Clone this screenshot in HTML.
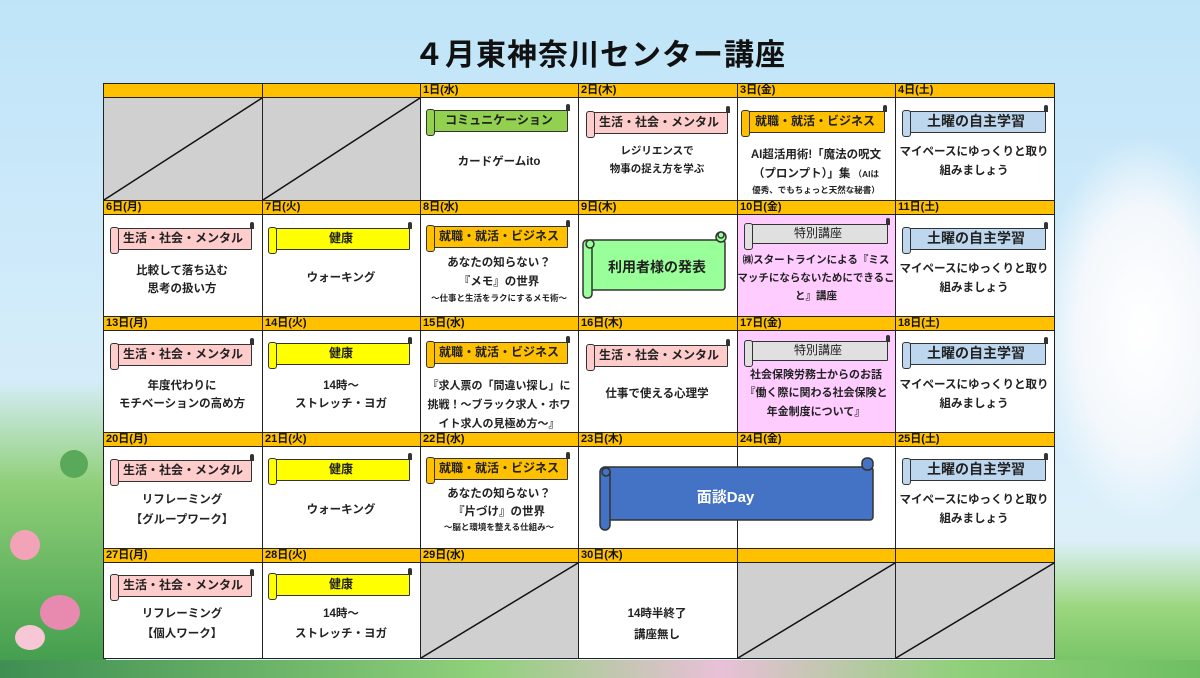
<!DOCTYPE html>
<html><head><meta charset="utf-8">
<style>
*{margin:0;padding:0;box-sizing:border-box}
body{width:1200px;height:678px;overflow:hidden;position:relative;font-family:"Liberation Sans","Noto Sans CJK JP",sans-serif;
background:linear-gradient(180deg,#bfe4f8 0%,#d3ecfa 50%,#e4f3fb 100%);}
.g1{position:absolute;left:0;top:380px;width:106px;height:298px;background:linear-gradient(180deg,rgba(120,200,110,0) 0%,#8fcf78 35%,#3d9a4a 100%)}
.g2{position:absolute;left:0;top:660px;width:1200px;height:18px;background:linear-gradient(90deg,#3e8f52,#8fd07a 40%,#e9c0d8 60%,#8fd07a 80%,#6fbf62)}
.g3{position:absolute;left:1055px;top:540px;width:145px;height:138px;background:linear-gradient(180deg,rgba(150,210,120,0),#9ad67c 50%,#6fbf62)}
.cl{position:absolute;left:1040px;top:140px;width:170px;height:380px;background:radial-gradient(ellipse at 60% 50%,#ffffff 0%,#f4f8fc 45%,rgba(230,240,250,0) 72%)}
.fl{position:absolute;border-radius:50%}
h1{position:absolute;left:0;top:30px;width:1200px;text-align:center;font-size:30px;font-weight:bold;color:#111;letter-spacing:1px}
.hd{position:absolute;height:15px;background:#ffc000;border:1px solid #222;font-size:11px;font-weight:bold;line-height:13px;padding-left:2px;color:#111}
.c{position:absolute;background:#fff;border:1px solid #222}
.gr{background:#d0d0d0}
.pk{background:#ffccff}
.t{position:absolute;width:158px;text-align:center;font-size:11.5px;font-weight:bold;color:#222;white-space:nowrap}
.s{font-size:8.5px}
.b{position:absolute;height:22px;border:1.5px solid #333;font-size:12px;font-weight:bold;text-align:center;line-height:19px;color:#222;border-radius:1px}
.b:before{content:"";position:absolute;left:-5px;top:-2px;width:7px;height:25px;border:1.5px solid #333;border-radius:3px;background:inherit}
.b:after{content:"";position:absolute;right:-3px;top:-7px;width:4px;height:7px;background:#333;border-radius:2px 2px 0 0}
.pink{background:#ffcccc}.yel{background:#ffff00}.org{background:#ffc000}.blu{background:#bdd7ee;font-size:14px}.grn{background:#92d050}.gry{background:#e0e0e0;font-weight:normal}
</style></head><body>
<div class="cl"></div>
<div class="g1"></div><div class="g3"></div><div class="g2"></div>
<div class="fl" style="left:10px;top:530px;width:30px;height:30px;background:#f2a3b8"></div>
<div class="fl" style="left:40px;top:595px;width:40px;height:35px;background:#e88ab0"></div>
<div class="fl" style="left:15px;top:625px;width:30px;height:25px;background:#f7c7d5"></div>
<div class="fl" style="left:60px;top:450px;width:28px;height:28px;background:#5aa85a"></div>
<h1>４月東神奈川センター講座</h1>

<div class="hd" style="left:103px;top:83px;width:160px"></div>
<div class="hd" style="left:262px;top:83px;width:159px"></div>
<div class="hd" style="left:420px;top:83px;width:159px">1日(水)</div>
<div class="hd" style="left:578px;top:83px;width:160px">2日(木)</div>
<div class="hd" style="left:737px;top:83px;width:159px">3日(金)</div>
<div class="hd" style="left:895px;top:83px;width:160px">4日(土)</div>

<div class="hd" style="left:103px;top:200px;width:160px">6日(月)</div>
<div class="hd" style="left:262px;top:200px;width:159px">7日(火)</div>
<div class="hd" style="left:420px;top:200px;width:159px">8日(水)</div>
<div class="hd" style="left:578px;top:200px;width:160px">9日(木)</div>
<div class="hd" style="left:737px;top:200px;width:159px">10日(金)</div>
<div class="hd" style="left:895px;top:200px;width:160px">11日(土)</div>

<div class="hd" style="left:103px;top:316px;width:160px">13日(月)</div>
<div class="hd" style="left:262px;top:316px;width:159px">14日(火)</div>
<div class="hd" style="left:420px;top:316px;width:159px">15日(水)</div>
<div class="hd" style="left:578px;top:316px;width:160px">16日(木)</div>
<div class="hd" style="left:737px;top:316px;width:159px">17日(金)</div>
<div class="hd" style="left:895px;top:316px;width:160px">18日(土)</div>

<div class="hd" style="left:103px;top:432px;width:160px">20日(月)</div>
<div class="hd" style="left:262px;top:432px;width:159px">21日(火)</div>
<div class="hd" style="left:420px;top:432px;width:159px">22日(水)</div>
<div class="hd" style="left:578px;top:432px;width:160px">23日(木)</div>
<div class="hd" style="left:737px;top:432px;width:159px">24日(金)</div>
<div class="hd" style="left:895px;top:432px;width:160px">25日(土)</div>

<div class="hd" style="left:103px;top:548px;width:160px">27日(月)</div>
<div class="hd" style="left:262px;top:548px;width:159px">28日(火)</div>
<div class="hd" style="left:420px;top:548px;width:159px">29日(水)</div>
<div class="hd" style="left:578px;top:548px;width:160px">30日(木)</div>
<div class="hd" style="left:737px;top:548px;width:159px"></div>
<div class="hd" style="left:895px;top:548px;width:160px"></div>

<div class="c gr" style="left:103px;top:97px;width:160px;height:104px"></div>
<div class="c gr" style="left:262px;top:97px;width:159px;height:104px"></div>
<div class="c" style="left:420px;top:97px;width:159px;height:104px"></div>
<div class="c" style="left:578px;top:97px;width:160px;height:104px"></div>
<div class="c" style="left:737px;top:97px;width:159px;height:104px"></div>
<div class="c" style="left:895px;top:97px;width:160px;height:104px"></div>

<div class="c" style="left:103px;top:214px;width:160px;height:103px"></div>
<div class="c" style="left:262px;top:214px;width:159px;height:103px"></div>
<div class="c" style="left:420px;top:214px;width:159px;height:103px"></div>
<div class="c" style="left:578px;top:214px;width:160px;height:103px"></div>
<div class="c pk" style="left:737px;top:214px;width:159px;height:103px"></div>
<div class="c" style="left:895px;top:214px;width:160px;height:103px"></div>

<div class="c" style="left:103px;top:330px;width:160px;height:103px"></div>
<div class="c" style="left:262px;top:330px;width:159px;height:103px"></div>
<div class="c" style="left:420px;top:330px;width:159px;height:103px"></div>
<div class="c" style="left:578px;top:330px;width:160px;height:103px"></div>
<div class="c pk" style="left:737px;top:330px;width:159px;height:103px"></div>
<div class="c" style="left:895px;top:330px;width:160px;height:103px"></div>

<div class="c" style="left:103px;top:446px;width:160px;height:103px"></div>
<div class="c" style="left:262px;top:446px;width:159px;height:103px"></div>
<div class="c" style="left:420px;top:446px;width:159px;height:103px"></div>
<div class="c" style="left:578px;top:446px;width:160px;height:103px"></div>
<div class="c" style="left:737px;top:446px;width:159px;height:103px"></div>
<div class="c" style="left:895px;top:446px;width:160px;height:103px"></div>

<div class="c" style="left:103px;top:562px;width:160px;height:97px"></div>
<div class="c" style="left:262px;top:562px;width:159px;height:97px"></div>
<div class="c gr" style="left:420px;top:562px;width:159px;height:97px"></div>
<div class="c" style="left:578px;top:562px;width:160px;height:97px"></div>
<div class="c gr" style="left:737px;top:562px;width:159px;height:97px"></div>
<div class="c gr" style="left:895px;top:562px;width:160px;height:97px"></div>

<svg style="position:absolute;left:0;top:0" width="1200" height="678">
<g stroke="#111" stroke-width="1.5">
<line x1="104" y1="200" x2="262" y2="98"/>
<line x1="263" y1="200" x2="420" y2="98"/>
<line x1="421" y1="658" x2="578" y2="563"/>
<line x1="738" y1="658" x2="895" y2="563"/>
<line x1="896" y1="658" x2="1054" y2="563"/>
</g>
<g stroke="#333" stroke-width="1.5">
<rect x="587" y="240" width="138" height="50" rx="3" fill="#99ff99"/>
<rect x="583" y="240" width="9" height="58" rx="4" fill="#99ff99"/>
<circle cx="590" cy="244" r="4" fill="#99ff99"/>
<rect x="716" y="232" width="10" height="10" rx="5" fill="#99ff99"/>
<circle cx="721" cy="235" r="3" fill="#99ff99"/>
</g>
<g stroke="#333" stroke-width="1.5">
<rect x="603" y="467" width="270" height="53" rx="3" fill="#4472c4"/>
<rect x="600" y="467" width="10" height="63" rx="5" fill="#4472c4"/>
<circle cx="606" cy="472" r="4" fill="#4472c4"/>
<rect x="862" y="458" width="11" height="12" rx="5" fill="#4472c4"/>
</g>
</svg>
<div class="t" style="left:578px;top:257px;font-size:14px">利用者様の発表</div>
<div class="t" style="left:578px;top:486px;width:295px;font-size:15px;color:#fff;font-weight:bold">面談Day</div>

<div class="b grn" style="left:430px;top:110px;width:138px">コミュニケーション</div>
<div class="t" style="left:420px;top:153px">カードゲームito</div>
<div class="b pink" style="left:590px;top:112px;width:138px">生活・社会・メンタル</div>
<div class="t" style="left:578px;top:143px;font-size:10.5px">レジリエンスで</div>
<div class="t" style="left:578px;top:161px;font-size:10.5px">物事の捉え方を学ぶ</div>
<div class="b org" style="left:745px;top:111px;width:140px">就職・就活・ビジネス</div>
<div class="t" style="left:737px;top:146px;font-size:11.5px">AI超活用術!「魔法の呪文</div>
<div class="t" style="left:737px;top:165px;font-size:11.5px">（プロンプト）」集 <span class="s">（AIは</span></div>
<div class="t s" style="left:737px;top:184px">優秀、でもちょっと天然な秘書）</div>
<div class="b blu" style="left:906px;top:111px;width:140px">土曜の自主学習</div>
<div class="t" style="left:895px;top:143px">マイペースにゆっくりと取り</div>
<div class="t" style="left:895px;top:162px">組みましょう</div>

<div class="b pink" style="left:114px;top:228px;width:138px">生活・社会・メンタル</div>
<div class="t" style="left:103px;top:262px">比較して落ち込む</div>
<div class="t" style="left:103px;top:280px">思考の扱い方</div>
<div class="b yel" style="left:272px;top:228px;width:138px">健康</div>
<div class="t" style="left:262px;top:269px">ウォーキング</div>
<div class="b org" style="left:430px;top:226px;width:138px">就職・就活・ビジネス</div>
<div class="t" style="left:420px;top:254px">あなたの知らない？</div>
<div class="t" style="left:420px;top:273px">『メモ』の世界</div>
<div class="t s" style="left:420px;top:292px">～仕事と生活をラクにするメモ術～</div>
<div class="b gry" style="left:748px;top:224px;width:140px;height:20px;line-height:17px">特別講座</div>
<div class="t" style="left:737px;top:252px;font-size:10.5px">㈱スタートラインによる『ミス</div>
<div class="t" style="left:737px;top:270px;font-size:10.5px">マッチにならないためにできるこ</div>
<div class="t" style="left:737px;top:288px;font-size:10.5px">と』講座</div>
<div class="b blu" style="left:906px;top:228px;width:140px">土曜の自主学習</div>
<div class="t" style="left:895px;top:260px">マイペースにゆっくりと取り</div>
<div class="t" style="left:895px;top:279px">組みましょう</div>

<div class="b pink" style="left:114px;top:344px;width:138px">生活・社会・メンタル</div>
<div class="t" style="left:103px;top:377px">年度代わりに</div>
<div class="t" style="left:103px;top:395px">モチベーションの高め方</div>
<div class="b yel" style="left:272px;top:343px;width:138px">健康</div>
<div class="t" style="left:262px;top:377px">14時～</div>
<div class="t" style="left:262px;top:395px">ストレッチ・ヨガ</div>
<div class="b org" style="left:430px;top:342px;width:138px">就職・就活・ビジネス</div>
<div class="t" style="left:420px;top:377px;font-size:11px">『求人票の「間違い探し」に</div>
<div class="t" style="left:420px;top:396px;font-size:11px">挑戦！～ブラック求人・ホワ</div>
<div class="t" style="left:420px;top:415px;font-size:11px">イト求人の見極め方～』</div>
<div class="b pink" style="left:590px;top:345px;width:138px">生活・社会・メンタル</div>
<div class="t" style="left:578px;top:385px">仕事で使える心理学</div>
<div class="b gry" style="left:748px;top:341px;width:140px;height:20px;line-height:17px">特別講座</div>
<div class="t" style="left:737px;top:366px;font-size:11px">社会保険労務士からのお話</div>
<div class="t" style="left:737px;top:384px;font-size:11px">『働く際に関わる社会保険と</div>
<div class="t" style="left:737px;top:403px;font-size:11px">年金制度について』</div>
<div class="b blu" style="left:906px;top:343px;width:140px">土曜の自主学習</div>
<div class="t" style="left:895px;top:376px">マイペースにゆっくりと取り</div>
<div class="t" style="left:895px;top:395px">組みましょう</div>

<div class="b pink" style="left:114px;top:460px;width:138px">生活・社会・メンタル</div>
<div class="t" style="left:103px;top:491px">リフレーミング</div>
<div class="t" style="left:103px;top:511px">【グループワーク】</div>
<div class="b yel" style="left:272px;top:459px;width:138px">健康</div>
<div class="t" style="left:262px;top:501px">ウォーキング</div>
<div class="b org" style="left:430px;top:458px;width:138px">就職・就活・ビジネス</div>
<div class="t" style="left:420px;top:485px">あなたの知らない？</div>
<div class="t" style="left:420px;top:503px">『片づけ』の世界</div>
<div class="t s" style="left:420px;top:521px">～脳と環境を整える仕組み～</div>
<div class="b blu" style="left:906px;top:459px;width:140px">土曜の自主学習</div>
<div class="t" style="left:895px;top:491px">マイペースにゆっくりと取り</div>
<div class="t" style="left:895px;top:510px">組みましょう</div>

<div class="b pink" style="left:114px;top:575px;width:138px">生活・社会・メンタル</div>
<div class="t" style="left:103px;top:605px">リフレーミング</div>
<div class="t" style="left:103px;top:625px">【個人ワーク】</div>
<div class="b yel" style="left:272px;top:574px;width:138px">健康</div>
<div class="t" style="left:262px;top:605px">14時～</div>
<div class="t" style="left:262px;top:625px">ストレッチ・ヨガ</div>
<div class="t" style="left:578px;top:605px">14時半終了</div>
<div class="t" style="left:578px;top:626px">講座無し</div>
</body></html>
